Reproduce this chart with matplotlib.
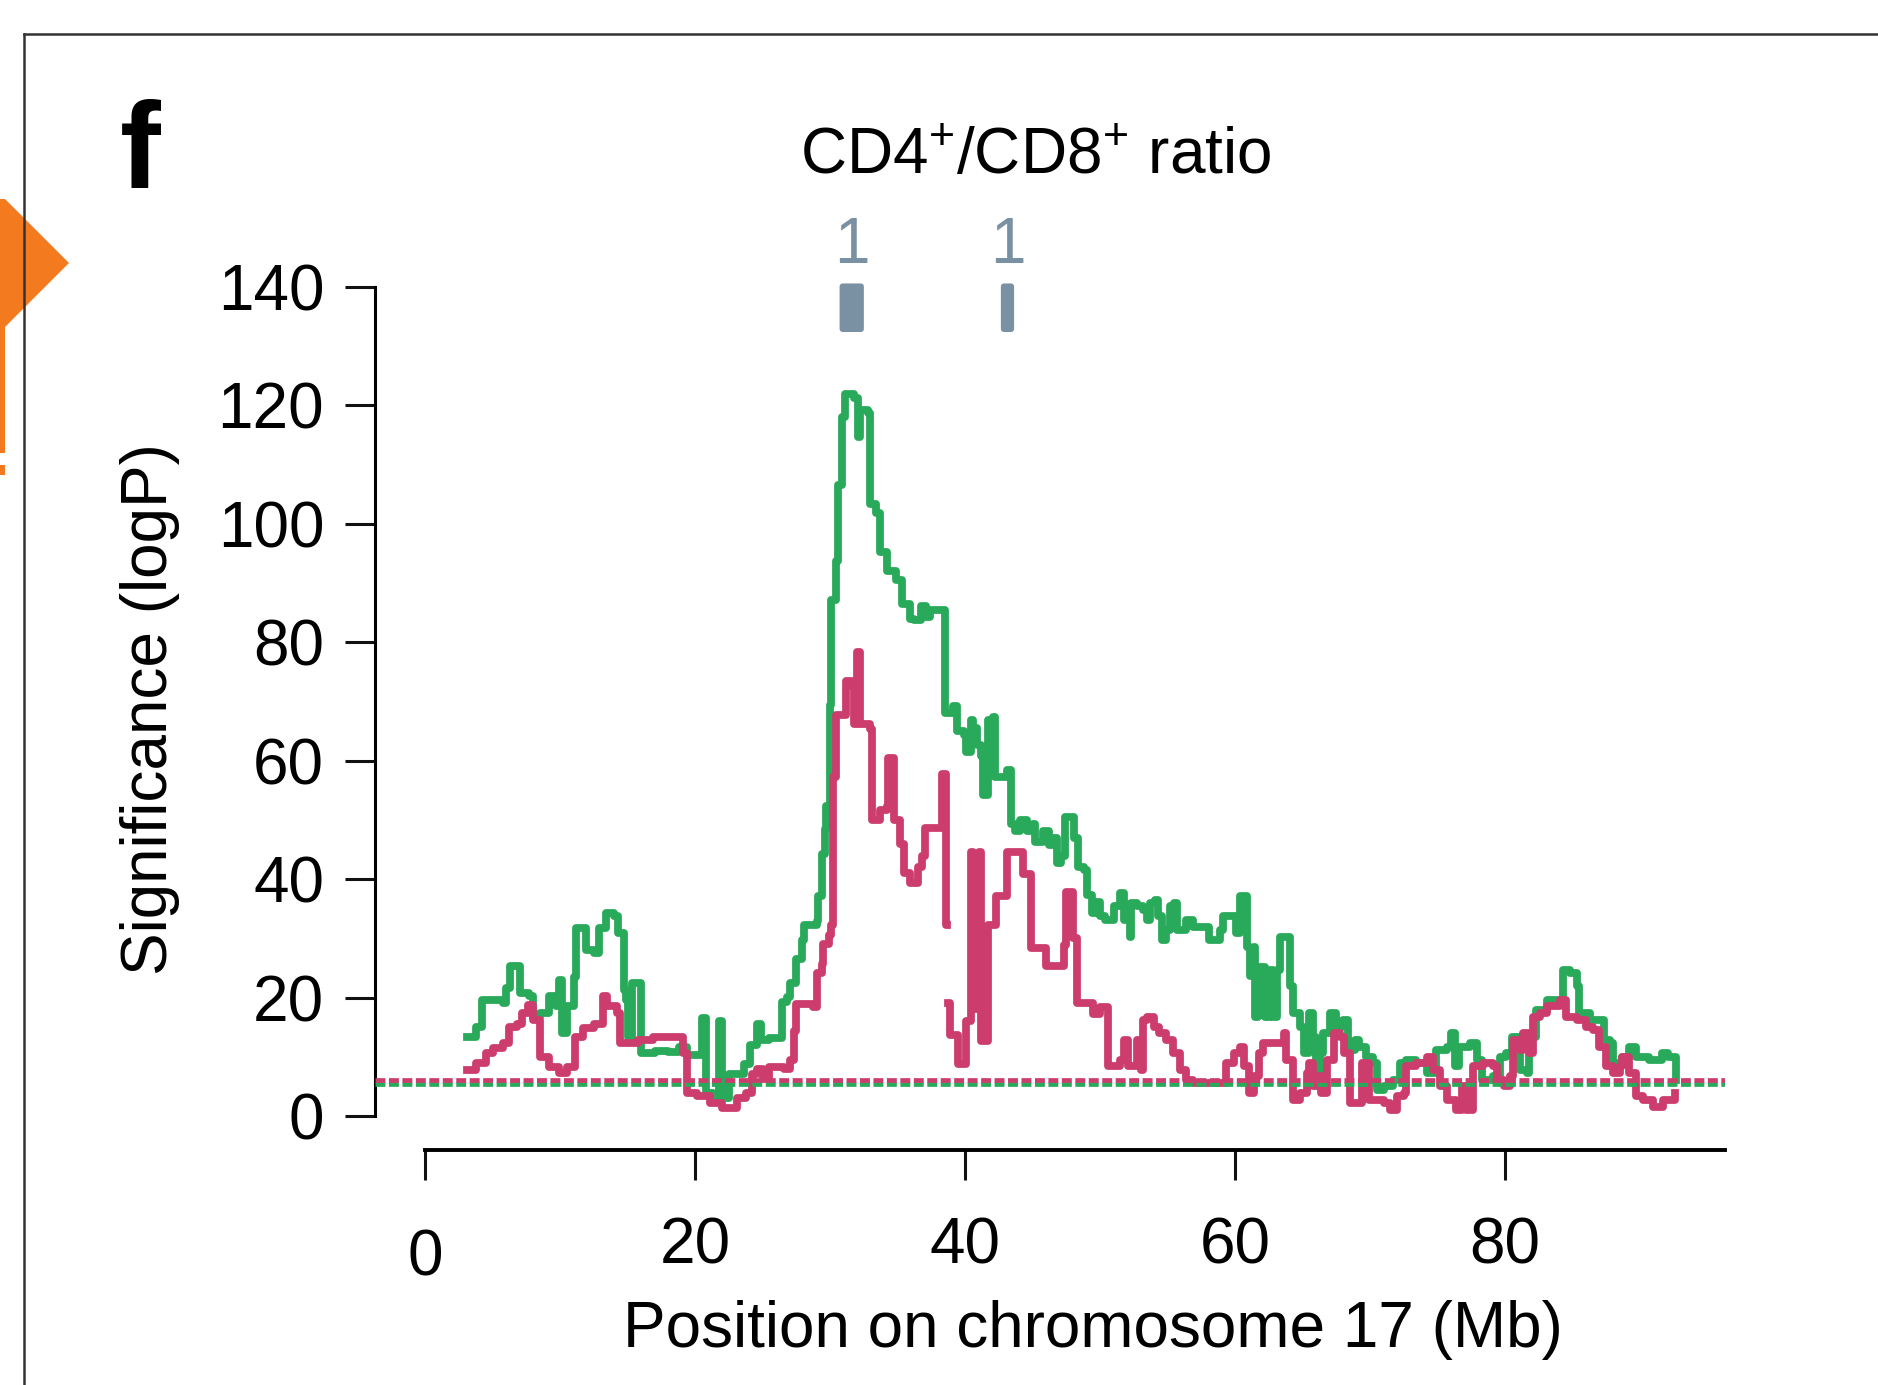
import numpy as np
import matplotlib
matplotlib.use("Agg")
import matplotlib.pyplot as plt
from matplotlib.patches import Polygon, Rectangle, FancyBboxPatch
from matplotlib.lines import Line2D
import matplotlib.transforms as mtransforms

plt.rcParams['font.family'] = ['Liberation Sans', 'DejaVu Sans']
plt.rcParams['mathtext.fontset'] = 'custom'
plt.rcParams['mathtext.rm'] = 'Liberation Sans'
plt.rcParams['mathtext.it'] = 'Liberation Sans:italic'
plt.rcParams['mathtext.bf'] = 'Liberation Sans:bold'
plt.rcParams['mathtext.default'] = 'regular'

# ---------------- data ----------------
nan = float('nan')

green_pos = [3.1, 3.8, 4.2, 5.8, 6.0, 6.3, 7.0, 7.7, 8.0, 8.5, 9.2, 9.7, 9.9, 10.1, 10.5,
             11.0, 11.2, 11.9, 12.5, 12.9, 13.4, 14.0, 14.3, 14.7, 14.9, 15.0, 15.3, 16.0,
             17.0, 18.0, 18.8, 19.4, 20.5, 20.8, 21.3, 21.8, 22.0, 22.5, 23.6, 24.1, 24.6,
             24.9, 25.5, 26.4, 26.8, 27.0, 27.5, 27.9, 28.1, 29.0, 29.1, 29.4, 29.6, 29.7,
             30.0, 30.1, 30.4, 30.6, 30.9, 31.1, 31.8, 32.1, 32.2, 32.8, 32.95, 33.4, 33.7,
             34.2, 34.9, 35.3, 35.9, 36.2, 36.7, 37.1, 37.4, 38.5, 39.1, 39.4, 39.9, 40.1,
             40.4, 40.6, 40.9, 41.2, 41.3, 41.7, 42.1, 42.2, 43.1, 43.4, 43.7, 44.1, 44.6,
             45.0, 45.2, 45.8, 46.2, 46.5, 46.8, 47.1, 47.4, 48.1, 48.4, 48.8, 49.0, 49.4,
             49.7, 50.0, 50.4, 51.0, 51.5, 51.8, 52.2, 52.3, 52.7, 53.2, 53.5, 53.7, 54.1,
             54.3, 54.6, 54.9, 55.2, 55.5, 55.7, 56.4, 56.9, 58.1, 58.9, 59.1, 60.1, 60.4,
             60.9, 61.1, 61.4, 61.5, 61.7, 61.8, 62.2, 62.6, 62.8, 63.1, 63.3, 64.1, 64.3,
             64.8, 65.1, 65.5, 65.8, 66.0, 66.3, 66.5, 67.0, 67.5, 68.0, 68.4, 68.9, 69.2,
             69.7, 70.2, 70.5, 71.0, 71.7, 72.2, 72.7, 73.4, 74.2, 74.9, 75.7, 76.0, 76.3,
             76.6, 77.4, 77.9, 78.3, 79.1, 79.6, 80.1, 80.5, 81.1, 81.6, 81.8, 82.3, 83.1,
             84.3, 84.8, 85.3, 85.5, 86.3, 87.3, 87.8, 88.0, 88.7, 89.2, 89.7, 90.7, 91.6,
             92.1, 92.6, 92.7]
green_logp = [13.4, 15.1, 19.6, 19.1, 21.6, 25.3, 20.8, 20.2, 16.8, 17.4, 20.2, 18.5, 23.0, 14.0, 18.5,
              23.5, 31.7, 28.1, 27.5, 31.7, 34.3, 33.7, 30.9, 21.3, 19.6, 13.4, 22.5, 10.6,
              11.0, 10.8, 11.7, 10.3, 16.6, 3.9, 2.8, 16.0, 3.1, 7.1, 8.7, 12.0, 15.6,
              12.8, 13.2, 19.3, 20.1, 22.5, 26.5, 29.8, 32.2, 33.0, 37.1, 44.3, 48.4, 52.4,
              69.4, 87.2, 93.7, 106.6, 118.0, 122.0, 121.2, 114.7, 119.2, 118.8, 103.4, 101.8, 95.3,
              92.1, 90.5, 86.4, 84.0, 83.7, 86.1, 84.3, 85.5, 68.0, 69.2, 65.0, 64.4, 61.4,
              66.8, 65.6, 62.6, 60.8, 54.2, 66.8, 67.4, 57.2, 58.4, 49.3, 48.1, 50.0, 48.1,
              49.3, 46.3, 48.1, 45.7, 46.9, 42.7, 43.9, 50.5, 46.9, 42.1, 41.5, 37.3, 34.3,
              36.1, 33.7, 33.1, 35.4, 37.6, 33.1, 30.3, 35.9, 35.4, 34.8, 33.1, 35.9, 36.5,
              33.7, 29.8, 31.4, 35.4, 35.9, 31.4, 33.1, 32.0, 29.8, 31.4, 33.7, 30.9, 37.1,
              28.6, 23.6, 28.6, 16.8, 18.5, 25.2, 16.8, 24.7, 16.8, 24.7, 30.3, 21.9, 17.4,
              15.1, 10.6, 17.4, 13.4, 7.2, 10.6, 14.0, 17.4, 15.1, 16.2, 11.2, 12.9, 11.7,
              10.0, 8.9, 4.4, 5.0, 6.1, 8.9, 9.5, 8.9, 7.2, 11.2, 11.7, 14.0, 8.4,
              11.7, 12.3, 9.5, 6.1, 6.7, 10.0, 10.6, 13.4, 7.8, 7.2, 13.4, 17.9, 19.6,
              24.7, 24.1, 21.9, 17.4, 16.2, 12.9, 12.3, 8.9, 10.0, 11.7, 10.0, 9.5, 10.6,
              10.0, 10.0, 6.1]

pink_pos = [3.1, 3.8, 4.5, 5.0, 5.8, 6.2, 6.8, 7.2, 7.6, 8.0, 8.5, 9.2, 9.9, 10.5, 11.1,
            11.7, 12.5, 13.2, 13.5, 14.2, 14.4, 15.8, 16.9, 18.6, 19.1, 19.4, 20.1, 21.1,
            22.0, 23.1, 23.8, 24.2, 24.6, 25.05, 25.5, 26.6, 27.0, 27.3, 27.5, 28.75, 29.0,
            29.4, 29.5, 29.9, 30.1, 30.2, 30.4, 31.2, 31.6, 31.8, 31.96, 32.2, 32.95, 33.1,
            33.7, 34.2, 34.3, 34.7, 35.2, 35.5, 35.9, 36.5, 36.8, 37.0, 38.3, 38.6, 38.65,
            38.75, 38.9, 39.5, 40.1, 40.4, 40.6, 41.0, 41.2, 41.7, 42.3, 43.1, 44.3, 44.9,
            46.0, 47.3, 47.5, 48.0, 48.3, 49.5, 50.0, 50.6, 51.5, 51.8, 52.1, 52.7, 53.0,
            53.2, 53.5, 54.0, 54.4, 54.9, 55.4, 55.9, 56.4, 56.9, 59.3, 59.9, 60.4, 60.7,
            61.0, 61.4, 61.8, 62.1, 63.6, 63.8, 64.3, 64.8, 65.3, 65.5, 65.8, 66.2, 66.4,
            66.8, 67.3, 67.8, 68.1, 68.5, 69.4, 69.9, 71.0, 71.5, 72.0, 72.5, 72.7, 73.4,
            74.2, 74.7, 75.2, 75.7, 76.4, 76.8, 77.1, 77.6, 78.4, 79.1, 79.4, 79.9, 80.4,
            80.6, 81.1, 81.3, 81.8, 82.1, 82.6, 83.1, 84.1, 84.5, 85.3, 86.0, 86.5, 87.0,
            87.5, 88.0, 88.5, 88.7, 89.2, 89.7, 90.2, 91.0, 91.7, 92.6]
pink_logp = [7.8, 8.9, 10.6, 11.4, 12.3, 15.1, 15.6, 17.4, 18.8, 16.2, 10.0, 8.3, 7.2, 8.3, 13.4,
             14.8, 15.6, 20.2, 18.5, 17.4, 12.3, 12.9, 13.4, 13.4, 10.6, 3.9, 3.4, 2.2,
             1.4, 3.1, 3.9, 7.1, 7.9, 6.3, 8.3, 7.9, 9.5, 14.4, 18.9, 18.4, 24.1,
             25.7, 29.0, 30.6, 32.2, 57.3, 67.8, 73.5, 72.7, 66.2, 78.3, 66.2, 65.4, 50.0,
             51.6, 52.4, 60.5, 50.0, 46.0, 41.1, 39.3, 42.1, 43.9, 48.7, 57.8, 32.3, nan,
             19.0, 13.6, 8.8, 16.1, 44.5, 18.0, 44.5, 12.6, 32.3, 37.1, 44.5, 40.9, 28.3,
             25.3, 28.9, 37.9, 30.1, 19.0, 17.2, 18.4, 8.4, 9.5, 12.9, 8.4, 12.9, 7.8,
             16.2, 16.8, 15.1, 14.0, 12.9, 10.6, 7.8, 6.1, 5.6, 8.9, 10.6, 11.7, 8.4,
             3.9, 6.7, 10.6, 12.3, 14.0, 9.5, 2.7, 3.9, 7.2, 8.9, 5.0, 6.7, 3.9,
             9.5, 14.0, 13.4, 10.6, 2.2, 8.9, 2.7, 2.2, 1.0, 3.3, 3.9, 8.4, 8.9,
             10.0, 7.8, 5.0, 2.7, 1.0, 5.0, 1.0, 8.4, 8.9, 8.4, 6.1, 5.0, 6.7,
             12.9, 11.2, 14.0, 10.6, 16.8, 17.4, 18.5, 19.6, 16.8, 16.2, 15.1, 14.5, 11.7,
             8.4, 7.2, 8.4, 10.0, 7.2, 3.3, 2.7, 1.6, 2.7, 3.9]

green_threshold = 5.4
pink_threshold = 6.1

loci_start = [30.7, 42.65]
loci_end = [32.5, 43.63]
loci_label = ["1", "1"]

xticks = [0, 20, 40, 60, 80]
xtick_labels = ["0", "20", "40", "60", "80"]
yticks = [0, 20, 40, 60, 80, 100, 120, 140]
ytick_labels = ["0", "20", "40", "60", "80", "100", "120", "140"]

title = r"CD4$^{+}$/CD8$^{+}$ ratio"
xlabel = "Position on chromosome 17 (Mb)"
ylabel = "Significance (logP)"
panel = "f"

# ---------------- style ----------------
GREEN = "#29a95a"
PINK = "#cc3d6d"
SLATE = "#7a91a3"
ORANGE = "#f47a20"
W, H = 1878, 1385

fig = plt.figure(figsize=(W / 100, H / 100), dpi=100)
fig.patch.set_facecolor("white")

def fx(px):
    return px / W

def fy(py):
    return 1 - py / H

ax = fig.add_axes([fx(375), fy(1116), (1725 - 375) / W, (1116 - 287) / H])

ax.plot(green_pos, green_logp, drawstyle="steps-post", color=GREEN, lw=5.6, zorder=3)
ax.plot(pink_pos, pink_logp, drawstyle="steps-post", color=PINK, lw=5.6, zorder=4)
ax.axhline(green_threshold, color=GREEN, lw=3.4, dashes=(2.1, 0.75), zorder=5)
ax.axhline(pink_threshold, color=PINK, lw=3.4, dashes=(2.1, 0.75), zorder=6)

ax.set_xlim(-3.72, 96.3)
ax.set_ylim(0, 140)

for s in ["top", "right"]:
    ax.spines[s].set_visible(False)
ax.spines["left"].set_bounds(0, 140)
ax.spines["left"].set_linewidth(2.2)
ax.spines["bottom"].set_position(("outward", 24.5))
ax.spines["bottom"].set_bounds(0, 96.3)
ax.spines["bottom"].set_linewidth(2.8)

ax.set_xticks(xticks, xtick_labels)
ax.set_yticks(yticks, ytick_labels)
ax.tick_params(axis="both", direction="out", length=21.6, width=2.2, labelsize=46, color="#111111")
ax.tick_params(axis="y", pad=15)
ax.tick_params(axis="x", pad=26)

ax.set_xlabel(xlabel, fontsize=46)
ax.xaxis.set_label_coords((1093 - 375) / 1350, (1116 - 1300) / 829)
ax.set_ylabel(ylabel, fontsize=46)
ax.yaxis.set_label_coords((180 - 375) / 1350, (1116 - 709) / 829)

# "0" label sits lower in the reference
lab0 = ax.xaxis.get_major_ticks()[0].label1
lab0.set_transform(lab0.get_transform() + mtransforms.ScaledTranslation(0, -0.12, fig.dpi_scale_trans))

# loci markers
for s, e, lab in zip(loci_start, loci_end, loci_label):
    patch = FancyBboxPatch((s, 132.4), e - s, 8.2,
                           boxstyle="round,pad=0,rounding_size=0.25",
                           mutation_aspect=2.3, fc=SLATE, ec="none", clip_on=False, zorder=5)
    ax.add_patch(patch)
    ax.text((s + e) / 2, 147.0, lab, ha="center", va="center", color=SLATE,
            fontsize=46, clip_on=False)

fig.text(fx(1036), fy(174), title, ha="center", va="baseline", fontsize=46)
fig.text(fx(120), fy(188), panel, ha="left", va="baseline", fontsize=88, fontweight="bold")

# frame of panel
fig.add_artist(Line2D([fx(24), fx(W + 5)], [fy(34), fy(34)], transform=fig.transFigure,
                      color="#333333", lw=1.8))
fig.add_artist(Line2D([fx(24), fx(24)], [fy(34), fy(H + 5)], transform=fig.transFigure,
                      color="#333333", lw=1.8))

# orange marker from neighbouring panel
poly = Polygon([(fx(0), fy(199)), (fx(5), fy(199)), (fx(69), fy(263)), (fx(5), fy(327)),
                (fx(5), fy(453)), (fx(0), fy(453))], closed=True, transform=fig.transFigure,
               fc=ORANGE, ec="none")
fig.add_artist(poly)
fig.add_artist(Rectangle((fx(0), fy(475)), fx(5), (475 - 465) / H, transform=fig.transFigure,
                         fc=ORANGE, ec="none"))

fig.savefig("out.png", dpi=100, facecolor="white")
